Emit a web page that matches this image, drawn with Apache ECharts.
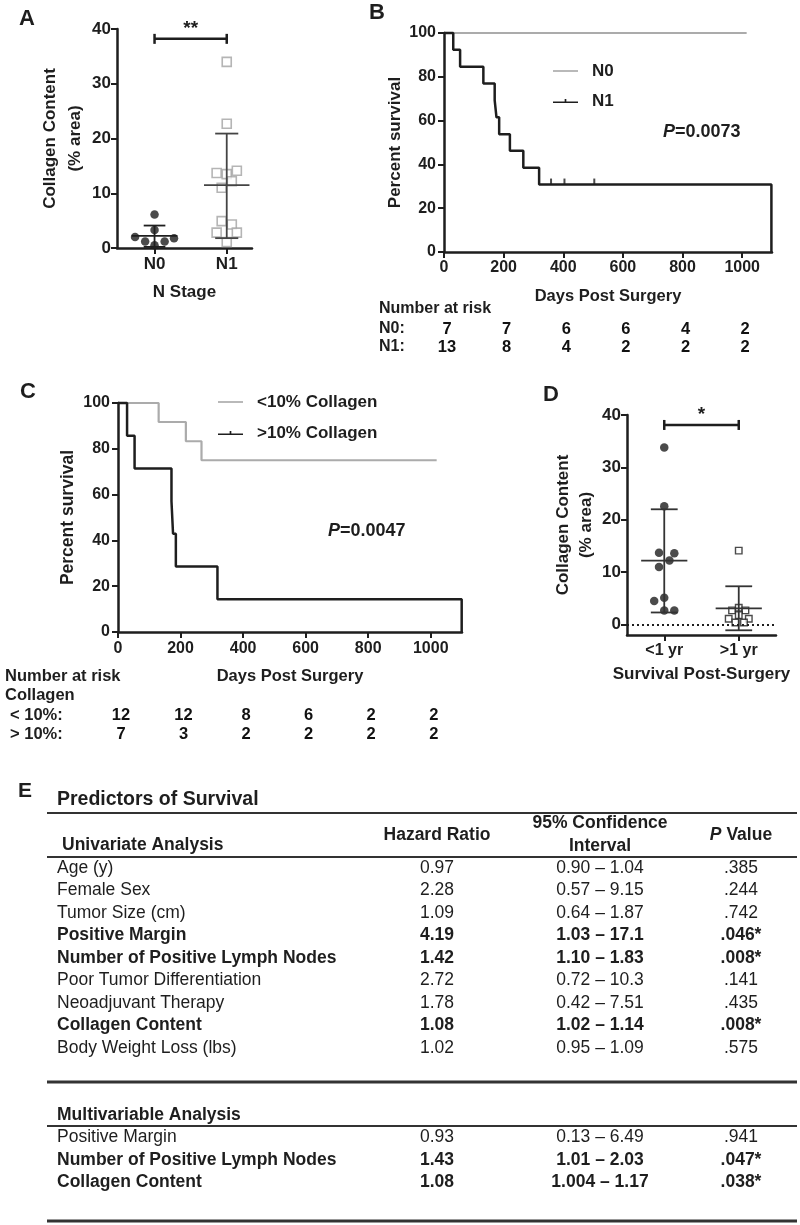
<!DOCTYPE html>
<html><head><meta charset="utf-8">
<script src="https://cdn.jsdelivr.net/npm/echarts@6/dist/echarts.min.js"></script>
<style>html,body{margin:0;padding:0;background:#fff}#c{width:800px;height:1225px}</style>
</head><body><div id="c"></div>
<script>
// ---------------- DATA ----------------
// Panel A: collagen content by N stage
const aCats = ['N0', 'N1'];
const aN0Off = [-0.27, -0.13, 0, 0, 0, 0.14, 0.27];
const aN0Val = [2.0, 1.2, 6.1, 3.3, 0.5, 1.2, 1.8];
const aN1Off = [0, 0, -0.14, 0, 0.14, 0.07, -0.07, -0.07, 0.07, -0.14, 0.14, 0];
const aN1Val = [34.0, 22.7, 13.7, 13.5, 14.1, 12.2, 11.0, 4.9, 4.3, 2.8, 2.8, 1.1];
const aMean = [2.2, 11.5];
const aSdLo = [0.2, 1.8];
const aSdHi = [4.1, 20.9];
const aSigY = 38.2;
const aSigLabel = '**';

// Panel B: survival by N stage
const bN0Days = [0, 1015];
const bN0Surv = [100, 100];
const bN1Days = [0, 31, 54, 132, 170, 176, 185, 221, 266, 319, 1098];
const bN1Surv = [100, 92.3, 84.6, 76.9, 69.2, 61.5, 53.8, 46.2, 38.5, 30.8, 0];
const bN1CensDays = [359, 404, 504];
const bN1CensSurv = [30.8, 30.8, 30.8];
const bPValue = '0.0073';
const riskDays = [0, 200, 400, 600, 800, 1000];
const bRiskRows = ['N0:', 'N1:'];
const bRiskN0 = [7, 7, 6, 6, 4, 2];
const bRiskN1 = [13, 8, 4, 2, 2, 2];

// Panel C: survival by collagen content
const cLoDays = [0, 130, 217, 267, 1019];
const cLoSurv = [100, 91.7, 83.3, 75, 75];
const cHiDays = [0, 29, 53, 171, 176, 185, 318, 1099];
const cHiSurv = [100, 85.7, 71.4, 57.1, 42.9, 28.6, 14.3, 0];
const cPValue = '0.0047';
const cRiskRows = ['< 10%:', '> 10%:'];
const cRiskLo = [12, 12, 8, 6, 2, 2];
const cRiskHi = [7, 3, 2, 2, 2, 2];

// Panel D: collagen content by survival
const dCats = ['<1 yr', '>1 yr'];
const dLtOff = [0, 0, -0.07, 0.135, 0.07, -0.07, -0.135, 0, 0, 0.135];
const dLtVal = [33.8, 22.6, 13.7, 13.6, 12.2, 11.0, 4.5, 5.1, 2.7, 2.7];
const dGtOff = [0, -0.09, 0, 0.09, -0.135, 0, 0.135, -0.045, 0.07];
const dGtVal = [14.1, 2.7, 3.2, 2.7, 1.1, 1.8, 1.1, 0.4, 0.4];
const dMean = [12.2, 3.1];
const dSdLo = [2.3, -1.1];
const dSdHi = [22.0, 7.3];
const dSigY = 38.1;
const dSigLabel = '*';
const dYTicks = [0, 10, 20, 30, 40];

// Panel E: table
const tableTitle = 'Predictors of Survival';
const uniVars = ['Age (y)', 'Female Sex', 'Tumor Size (cm)', 'Positive Margin', 'Number of Positive Lymph Nodes', 'Poor Tumor Differentiation', 'Neoadjuvant Therapy', 'Collagen Content', 'Body Weight Loss (lbs)'];
const uniHR = ['0.97', '2.28', '1.09', '4.19', '1.42', '2.72', '1.78', '1.08', '1.02'];
const uniCI = ['0.90 – 1.04', '0.57 – 9.15', '0.64 – 1.87', '1.03 – 17.1', '1.10 – 1.83', '0.72 – 10.3', '0.42 – 7.51', '1.02 – 1.14', '0.95 – 1.09'];
const uniP = ['.385', '.244', '.742', '.046*', '.008*', '.141', '.435', '.008*', '.575'];
const uniSig = [false, false, false, true, true, false, false, true, false];
const mulVars = ['Positive Margin', 'Number of Positive Lymph Nodes', 'Collagen Content'];
const mulHR = ['0.93', '1.43', '1.08'];
const mulCI = ['0.13 – 6.49', '1.01 – 2.03', '1.004 – 1.17'];
const mulP = ['.941', '.047*', '.038*'];
const mulSig = [false, true, true];

// ---------------- STYLE ----------------
const FONT = "'Liberation Sans', Arial, Helvetica, sans-serif";
const BLACK = '#1e1e1e';
const GRAY = '#ababab';

function axLine() { return { show: true, onZero: false, lineStyle: { color: BLACK, width: 2.5 } }; }
function axTick(vals) { const t = { show: true, length: 6, lineStyle: { color: BLACK, width: 2 } }; if (vals) t.customValues = vals; return t; }
function axLabel(size, margin, extra) { return Object.assign({ color: BLACK, fontSize: size, fontWeight: 'bold', fontFamily: FONT, margin: margin }, extra || {}); }
function nameStyle(size, lh) { return { color: BLACK, fontSize: size, fontWeight: 'bold', fontFamily: FONT, lineHeight: lh || size + 4 }; }

function errBars(meanHalf, capHalf, color) {
  return function (params, api) {
    const x = api.value(0), m = api.value(1), lo = api.value(2), hi = api.value(3);
    const seg = (a, b) => ({ type: 'line', shape: { x1: a[0], y1: a[1], x2: b[0], y2: b[1] }, style: { stroke: color, lineWidth: 1.8 } });
    return { type: 'group', children: [
      seg(api.coord([x, lo]), api.coord([x, hi])),
      seg(api.coord([x - meanHalf, m]), api.coord([x + meanHalf, m])),
      seg(api.coord([x - capHalf, lo]), api.coord([x + capHalf, lo])),
      seg(api.coord([x - capHalf, hi]), api.coord([x + capHalf, hi]))
    ] };
  };
}
function sigBar(label) {
  return function (params, api) {
    const a = api.coord([api.value(0), api.value(2)]);
    const b = api.coord([api.value(1), api.value(2)]);
    const st = { stroke: BLACK, lineWidth: 2.5 };
    return { type: 'group', children: [
      { type: 'line', shape: { x1: a[0], y1: a[1], x2: b[0], y2: b[1] }, style: st },
      { type: 'line', shape: { x1: a[0], y1: a[1] - 5, x2: a[0], y2: a[1] + 5 }, style: st },
      { type: 'line', shape: { x1: b[0], y1: b[1] - 5, x2: b[0], y2: b[1] + 5 }, style: st },
      { type: 'text', x: (a[0] + b[0]) / 2, y: a[1] - 1, style: { text: label, align: 'center', verticalAlign: 'bottom', fontSize: 19, fontWeight: 'bold', fontFamily: FONT, fill: BLACK } }
    ] };
  };
}
function riskText(params, api) {
  const p = api.coord([api.value(0), api.value(1)]);
  return { type: 'text', x: p[0] + 3, y: p[1], style: { text: String(api.value(2)), align: 'center', verticalAlign: 'middle', fontSize: 16.5, fontWeight: 'bold', fontFamily: FONT, fill: '#111' } };
}
const zip = (xs, ys) => xs.map((x, i) => [x, ys[i]]);

// ---------------- GRAPHIC TEXT / TABLE ----------------
const g = [];
function txt(x, y, text, o) {
  o = o || {};
  const style = { text: text, align: o.align || 'left', verticalAlign: 'middle', fill: BLACK,
    fontSize: o.size || 17.5, fontWeight: o.bold ? 'bold' : 'normal', fontFamily: FONT };
  if (o.rich) style.rich = o.rich;
  if (o.lineHeight) style.lineHeight = o.lineHeight;
  g.push({ type: 'text', x: x, y: y, silent: true, style: style });
}
function rule(y, w) { g.push({ type: 'line', silent: true, shape: { x1: 47, y1: y, x2: 797, y2: y }, style: { stroke: '#333', lineWidth: w } }); }
const italicRich = (size) => ({ i: { fontStyle: 'italic', fontWeight: 'bold', fontSize: size, fontFamily: FONT, fill: BLACK } });

// panel letters
txt(19, 19, 'A', { size: 22, bold: true });
txt(369, 13, 'B', { size: 22, bold: true });
txt(20, 392, 'C', { size: 22, bold: true });
txt(543, 395, 'D', { size: 22, bold: true });
txt(18, 791, 'E', { size: 21, bold: true });
// p values
txt(663, 132, '{i|P}=' + bPValue, { size: 18, bold: true, rich: italicRich(18) });
txt(328, 531, '{i|P}=' + cPValue, { size: 18, bold: true, rich: italicRich(18) });
// number at risk headers
txt(379, 309, 'Number at risk', { size: 16, bold: true });
txt(5, 676, 'Number at risk', { size: 16.5, bold: true });
txt(5, 695, 'Collagen', { size: 16.5, bold: true });

// table
const TX = { label: 57, hr: 437, ci: 600, p: 741 };
txt(TX.label, 800, tableTitle, { size: 19.5, bold: true });
rule(813, 2);
txt(62, 845, 'Univariate Analysis', { size: 17.5, bold: true });
txt(TX.hr, 835, 'Hazard Ratio', { size: 17.5, bold: true, align: 'center' });
txt(TX.ci, 834.5, '95% Confidence\nInterval', { size: 17.5, bold: true, align: 'center', lineHeight: 23 });
txt(TX.p, 835, '{i|P} Value', { size: 17.5, bold: true, align: 'center', rich: italicRich(17.5) });
rule(857, 2);
uniVars.forEach((v, i) => {
  const y = 868 + i * 22.5, b = uniSig[i];
  txt(TX.label, y, v, { bold: b });
  txt(TX.hr, y, uniHR[i], { bold: b, align: 'center' });
  txt(TX.ci, y, uniCI[i], { bold: b, align: 'center' });
  txt(TX.p, y, uniP[i], { bold: b, align: 'center' });
});
rule(1082, 3);
txt(TX.label, 1115, 'Multivariable Analysis', { size: 17.5, bold: true });
rule(1126, 2);
mulVars.forEach((v, i) => {
  const y = 1137.5 + i * 22.5, b = mulSig[i];
  txt(TX.label, y, v, { bold: b });
  txt(TX.hr, y, mulHR[i], { bold: b, align: 'center' });
  txt(TX.ci, y, mulCI[i], { bold: b, align: 'center' });
  txt(TX.p, y, mulP[i], { bold: b, align: 'center' });
});
rule(1221, 3);

// ---------------- OPTION ----------------
const legendText = { fontSize: 17, fontWeight: 'bold', fontFamily: FONT, color: BLACK, lineHeight: 20, padding: [0, 0, 0, 9] };
const iconPlain = 'path://M0,3H30V5H0Z';
const iconTick = 'path://M0,3H14V0H16V3H30V5H0Z';
const plainNum = v => String(v);

const option = {
  animation: false,
  backgroundColor: '#fff',
  textStyle: { fontFamily: FONT },
  grid: [
    { left: 117, top: 29, width: 135, height: 219 },   // A
    { left: 444, top: 33, width: 328, height: 219 },   // B
    { left: 444, top: 320, width: 328, height: 36 },   // B risk
    { left: 118, top: 403, width: 344, height: 229 },  // C
    { left: 118, top: 706, width: 344, height: 38 },   // C risk
    { left: 627, top: 415, width: 149, height: 220 }   // D
  ],
  legend: [
    { data: [{ name: 'N0', icon: iconPlain }, { name: 'N1', icon: iconTick }], orient: 'vertical', left: 553, top: 61, itemWidth: 25, itemHeight: 6, itemGap: 10, padding: 0, selectedMode: false, textStyle: legendText },
    { data: [{ name: '<10% Collagen', icon: iconPlain }, { name: '>10% Collagen', icon: iconTick }], orient: 'vertical', left: 218, top: 392, itemWidth: 25, itemHeight: 6, itemGap: 11, padding: 0, selectedMode: false, textStyle: legendText }
  ],
  xAxis: [
    { gridIndex: 0, type: 'value', min: -0.52, max: 1.35, axisLine: axLine(), axisTick: axTick([0, 1]), splitLine: { show: false },
      axisLabel: axLabel(17, 8, { customValues: [0, 1], formatter: v => aCats[Math.round(v)] }),
      name: 'N Stage', nameLocation: 'middle', nameGap: 34, nameTextStyle: nameStyle(17) },
    { gridIndex: 1, type: 'value', min: 0, max: 1100, axisLine: axLine(), axisTick: axTick(riskDays), splitLine: { show: false },
      axisLabel: axLabel(16, 8, { customValues: riskDays, formatter: plainNum }),
      name: 'Days Post Surgery', nameLocation: 'middle', nameGap: 34, nameTextStyle: nameStyle(16.5) },
    { gridIndex: 2, type: 'value', min: 0, max: 1100, show: false },
    { gridIndex: 3, type: 'value', min: 0, max: 1100, axisLine: axLine(), axisTick: axTick(riskDays), splitLine: { show: false },
      axisLabel: axLabel(16, 9, { customValues: riskDays, formatter: plainNum }),
      name: 'Days Post Surgery', nameLocation: 'middle', nameGap: 34, nameTextStyle: nameStyle(16.5) },
    { gridIndex: 4, type: 'value', min: 0, max: 1100, show: false },
    { gridIndex: 5, type: 'value', min: -0.5, max: 1.5, axisLine: axLine(), axisTick: axTick([0, 1]), splitLine: { show: false },
      axisLabel: axLabel(16, 8, { customValues: [0, 1], formatter: v => dCats[Math.round(v)] }),
      name: 'Survival Post-Surgery', nameLocation: 'middle', nameGap: 29, nameTextStyle: nameStyle(17) }
  ],
  yAxis: [
    { gridIndex: 0, type: 'value', min: 0, max: 40, interval: 10, axisLine: axLine(), axisTick: axTick(), splitLine: { show: false },
      axisLabel: axLabel(17, 6), name: 'Collagen Content\n(% area)', nameLocation: 'middle', nameRotate: 90, nameGap: 22, nameTextStyle: nameStyle(17, 25) },
    { gridIndex: 1, type: 'value', min: 0, max: 100, interval: 20, axisLine: axLine(), axisTick: axTick(), splitLine: { show: false },
      axisLabel: axLabel(16, 8), name: 'Percent survival', nameLocation: 'middle', nameRotate: 90, nameGap: 37, nameTextStyle: nameStyle(17) },
    { gridIndex: 2, type: 'category', data: bRiskRows, inverse: true, axisLine: { show: false }, axisTick: { show: false }, splitLine: { show: false },
      axisLabel: axLabel(16, 65, { align: 'left', interval: 0 }) },
    { gridIndex: 3, type: 'value', min: 0, max: 100, interval: 20, axisLine: axLine(), axisTick: axTick(), splitLine: { show: false },
      axisLabel: axLabel(16, 8), name: 'Percent survival', nameLocation: 'middle', nameRotate: 90, nameGap: 38, nameTextStyle: nameStyle(17.5) },
    { gridIndex: 4, type: 'category', data: cRiskRows, inverse: true, axisLine: { show: false }, axisTick: { show: false }, splitLine: { show: false },
      axisLabel: axLabel(16.5, 108, { align: 'left', interval: 0 }) },
    { gridIndex: 5, type: 'value', min: -2, max: 40, axisLine: axLine(), axisTick: axTick(dYTicks), splitLine: { show: false },
      axisLabel: axLabel(17, 6, { customValues: dYTicks }), name: 'Collagen Content\n(% area)', nameLocation: 'middle', nameRotate: 90, nameGap: 26, nameTextStyle: nameStyle(17, 23) }
  ],
  graphic: { elements: g },
  series: [
    // ---- A ----
    { name: 'A N0', type: 'scatter', xAxisIndex: 0, yAxisIndex: 0, symbol: 'circle', symbolSize: 8.5, itemStyle: { color: BLACK }, data: zip(aN0Off.map(o => 0 + o), aN0Val), z: 3 },
    { name: 'A N1', type: 'scatter', xAxisIndex: 0, yAxisIndex: 0, symbol: 'rect', symbolSize: 9, itemStyle: { color: '#fff', borderColor: '#a3a3a3', borderWidth: 1.6 }, data: zip(aN1Off.map(o => 1 + o), aN1Val), z: 3 },
    { name: 'A N0 mean±SD', type: 'custom', xAxisIndex: 0, yAxisIndex: 0, renderItem: errBars(0.315, 0.15, BLACK), data: [[0, aMean[0], aSdLo[0], aSdHi[0]]], z: 4 },
    { name: 'A N1 mean±SD', type: 'custom', xAxisIndex: 0, yAxisIndex: 0, renderItem: errBars(0.315, 0.16, '#444'), data: [[1, aMean[1], aSdLo[1], aSdHi[1]]], z: 4 },
    { name: 'A sig', type: 'custom', xAxisIndex: 0, yAxisIndex: 0, renderItem: sigBar(aSigLabel), data: [[0, 1, aSigY]] },
    // ---- B ----
    { name: 'N0', type: 'line', xAxisIndex: 1, yAxisIndex: 1, showSymbol: false, symbol: 'none', clip: false, color: GRAY, lineStyle: { color: GRAY, width: 2.2 }, data: zip(bN0Days, bN0Surv), z: 2 },
    { name: 'N1', type: 'line', xAxisIndex: 1, yAxisIndex: 1, step: 'end', showSymbol: false, symbol: 'none', clip: false, color: BLACK, lineStyle: { color: BLACK, width: 2.5 }, data: zip(bN1Days, bN1Surv), z: 3 },
    { name: 'N1 censored', type: 'scatter', xAxisIndex: 1, yAxisIndex: 1, symbol: 'rect', symbolSize: [2, 6], symbolOffset: [0, -3], itemStyle: { color: BLACK }, data: zip(bN1CensDays, bN1CensSurv), z: 3 },
    { name: 'B at risk', type: 'custom', xAxisIndex: 2, yAxisIndex: 2, renderItem: riskText,
      data: riskDays.map((d, i) => [d, bRiskRows[0], bRiskN0[i]]).concat(riskDays.map((d, i) => [d, bRiskRows[1], bRiskN1[i]])) },
    // ---- C ----
    { name: '<10% Collagen', type: 'line', xAxisIndex: 3, yAxisIndex: 3, step: 'end', showSymbol: false, symbol: 'none', clip: false, color: GRAY, lineStyle: { color: GRAY, width: 2.2 }, data: zip(cLoDays, cLoSurv), z: 2 },
    { name: '>10% Collagen', type: 'line', xAxisIndex: 3, yAxisIndex: 3, step: 'end', showSymbol: false, symbol: 'none', clip: false, color: BLACK, lineStyle: { color: BLACK, width: 2.5 }, data: zip(cHiDays, cHiSurv), z: 3 },
    { name: 'C at risk', type: 'custom', xAxisIndex: 4, yAxisIndex: 4, renderItem: riskText,
      data: riskDays.map((d, i) => [d, cRiskRows[0], cRiskLo[i]]).concat(riskDays.map((d, i) => [d, cRiskRows[1], cRiskHi[i]])) },
    // ---- D ----
    { name: 'D <1 yr', type: 'scatter', xAxisIndex: 5, yAxisIndex: 5, symbol: 'circle', symbolSize: 8.5, itemStyle: { color: BLACK }, data: zip(dLtOff.map(o => 0 + o), dLtVal), z: 3,
      markLine: { silent: true, symbol: 'none', label: { show: false }, lineStyle: { type: [2, 3], color: BLACK, width: 2 }, data: [{ yAxis: 0 }] } },
    { name: 'D >1 yr', type: 'scatter', xAxisIndex: 5, yAxisIndex: 5, symbol: 'rect', symbolSize: 6.5, itemStyle: { color: '#fff', borderColor: BLACK, borderWidth: 1.4 }, data: zip(dGtOff.map(o => 1 + o), dGtVal), z: 3 },
    { name: 'D mean±SD', type: 'custom', xAxisIndex: 5, yAxisIndex: 5, renderItem: errBars(0.31, 0.18, '#333'), data: dMean.map((m, i) => [i, m, dSdLo[i], dSdHi[i]]), z: 4 },
    { name: 'D sig', type: 'custom', xAxisIndex: 5, yAxisIndex: 5, renderItem: sigBar(dSigLabel), data: [[0, 1, dSigY]] }
  ]
};

const chart = echarts.init(document.getElementById('c'));
chart.setOption(option);
</script>
</body></html>
